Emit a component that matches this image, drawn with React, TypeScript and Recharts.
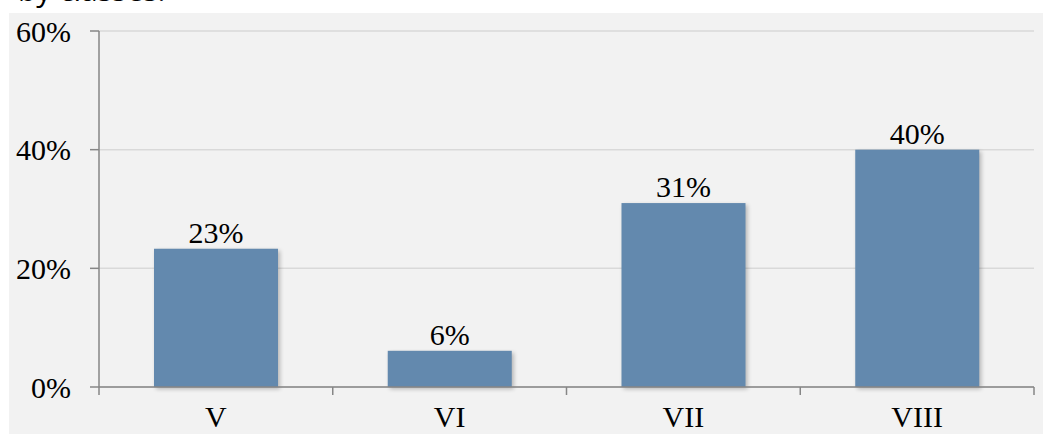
import React from "react";
import { BarChart, Bar, XAxis, YAxis, CartesianGrid, LabelList } from "recharts";

const classes = ["V", "VI", "VII", "VIII"];
const shares = [23.3, 6.1, 31, 40];
const yTicks = [0, 20, 40, 60];
// category centres sit at 0.5, 1.5, ... ; boundaries at whole numbers
const xTicks = [0, 0.5, 1, 1.5, 2, 2.5, 3, 3.5, 4];

const data = classes.map((name, i) => ({ name, pos: i + 0.5, share: shares[i] }));

const serif = "'Liberation Serif', serif";

function ShadowBar(props: any) {
  const { x, y, width, height, fill } = props;
  if (!height || height <= 0) return null;
  return (
    <g>
      <defs>
        <filter id="barShadow" x="-10%" y="-10%" width="130%" height="130%">
          <feGaussianBlur stdDeviation="2" />
        </filter>
      </defs>
      <rect x={x + 2} y={y + 2} width={width} height={height} fill="#000" opacity={0.25} filter="url(#barShadow)" />
      <rect x={x} y={y} width={width} height={height} fill={fill} />
    </g>
  );
}

function CategoryTick(props: any) {
  const { x, y, payload } = props;
  const v = payload.value;
  if (Number.isInteger(v)) {
    return <line x1={x} x2={x} y1={y} y2={y + 8} stroke="#868686" strokeWidth={1.5} />;
  }
  const label = classes[Math.floor(v)];
  return (
    <text x={x} y={y + 40} textAnchor="middle" fill="#000" fontFamily={serif} fontSize={30}>
      {label}
    </text>
  );
}

export default function App() {
  return (
    <div style={{ position: "absolute", left: 0, top: 0, width: 1043, height: 434, background: "#fff", overflow: "hidden" }}>
      <div
        style={{
          position: "absolute",
          left: 18,
          top: -25,
          fontFamily: "'Open Sans', sans-serif",
          fontSize: 30,
          lineHeight: "30px",
          color: "#000",
          whiteSpace: "nowrap",
        }}
      >
        by classes:
      </div>
      <div style={{ position: "absolute", left: 9, top: 13, width: 1034, height: 421, background: "#f2f2f2" }}>
        <BarChart width={1034} height={421} data={data} margin={{ top: 18, right: 9, left: 0, bottom: 0 }}>
          <CartesianGrid vertical={false} stroke="#d9d9d9" strokeWidth={1.5} />
          <XAxis
            dataKey="pos"
            type="number"
            domain={[0, 4]}
            ticks={xTicks}
            interval={0}
            height={47}
            tickSize={0}
            tickMargin={0}
            tickLine={false}
            axisLine={{ stroke: "#868686", strokeWidth: 1.5 }}
            tick={<CategoryTick />}
          />
          <YAxis
            width={90}
            domain={[0, 60]}
            ticks={yTicks}
            tickFormatter={(v: number) => v + "%"}
            tickSize={9}
            tickMargin={19}
            axisLine={{ stroke: "#868686", strokeWidth: 1.5 }}
            tickLine={{ stroke: "#868686", strokeWidth: 1.5 }}
            tick={{ fill: "#000", fontFamily: serif, fontSize: 30 }}
          />
          <Bar dataKey="share" fill="#6389ae" barSize={124} shape={<ShadowBar />} isAnimationActive={false}>
            <LabelList
              dataKey="share"
              position="top"
              offset={6}
              formatter={(v: any) => Math.round(Number(v)) + "%"}
              style={{ fill: "#000", fontFamily: serif, fontSize: 30 }}
            />
          </Bar>
        </BarChart>
      </div>
    </div>
  );
}
